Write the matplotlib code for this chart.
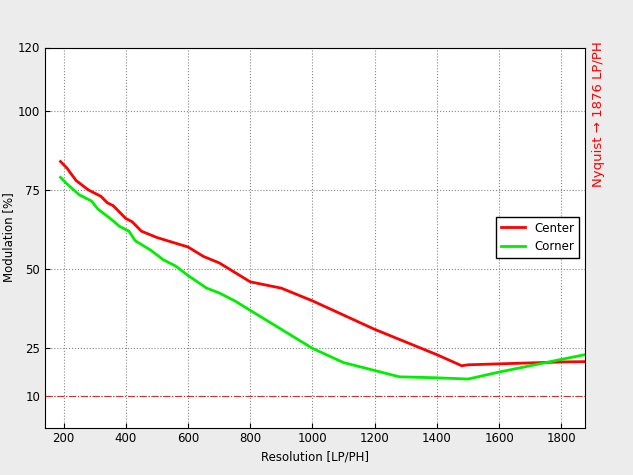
import matplotlib
matplotlib.use("Agg")
import matplotlib.pyplot as plt

cx = [190,210,240,280,320,340,360,400,420,450,500,550,600,650,700,750,800,900,1000,1100,1200,1300,1400,1480,1500,1600,1700,1800,1876]
cy = [84,82,78,75,73,71,70,66,65,62,60,58.5,57,54,52,49,46,44,40,35.5,31,27,23,19.5,19.8,20.1,20.4,20.7,20.8]
gx = [190,210,250,290,310,350,380,410,430,480,520,560,600,630,660,700,750,800,900,1000,1100,1200,1280,1400,1500,1600,1700,1800,1876]
gy = [79,77,73.5,71.5,69,66,63.5,62,59,56,53,51,48,46,44,42.5,40,37,31,25,20.5,18,16,15.7,15.3,17.5,19.5,21.5,23]

fig = plt.figure(figsize=(6.33,4.75), dpi=100, facecolor='#ececec')
ax = fig.add_axes([0.071, 0.10, 0.853, 0.80])
ax.plot(cx, cy, color='#ff0000', lw=2, label='Center')
ax.plot(gx, gy, color='#00ee00', lw=2, label='Corner')
ax.axhline(10, color='#cc3333', lw=0.8, ls='-.')
ax.set_xlim(140, 1876)
ax.set_ylim(0, 120)
ax.set_xticks(range(200, 1801, 200))
ax.set_yticks([10,25,50,75,100,120])
ax.grid(True, ls=':', color='#888888', lw=0.8)
ax.tick_params(labelsize=8.5, direction='in')
ax.set_xlabel('Resolution [LP/PH]', fontsize=8.5)
ax.set_ylabel('Modulation [%]', fontsize=8.5, labelpad=2)
ax.legend(loc='center right', fontsize=8.5, framealpha=1, edgecolor='black', fancybox=False)
fig.text(0.945, 0.76, 'Nyquist \u2192 1876 LP/PH', rotation=90, color='#ff0000', fontsize=9.5, ha='center', va='center')
fig.savefig('out.png', dpi=100, facecolor=fig.get_facecolor())
